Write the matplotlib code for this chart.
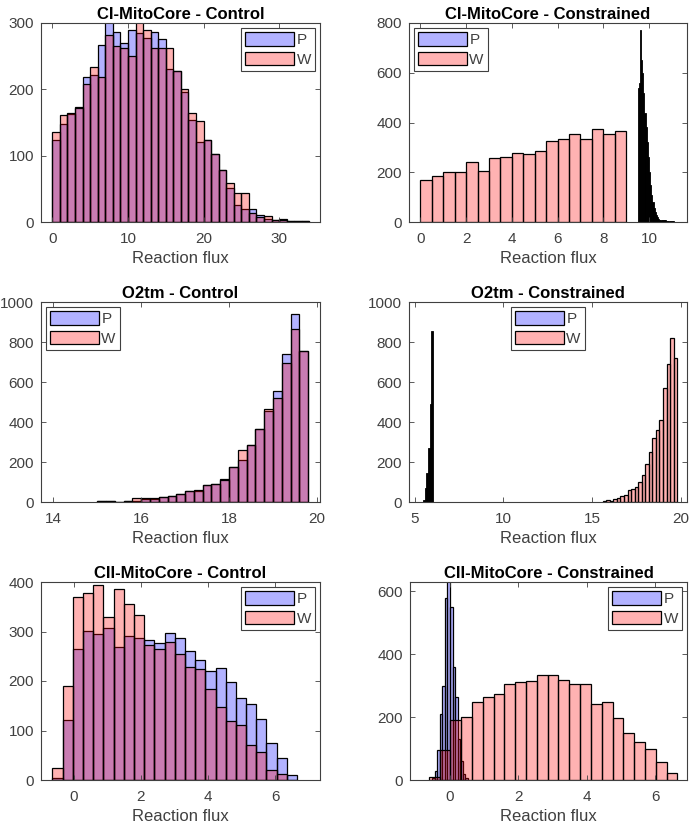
import numpy as np
import matplotlib
matplotlib.use("Agg")
import matplotlib.pyplot as plt
import matplotlib.patches as mpatches

plt.rcParams['font.family'] = ['Liberation Sans', 'DejaVu Sans']

# ---- data: histogram counts per bin (start, bin width, counts) ----
# CI-MitoCore - Control
ci_ctrl_start, ci_ctrl_bw = 0.0, 1.0
ci_ctrl_p = [124, 147, 163, 173, 218, 221, 267, 302, 287, 270, 290, 285, 277, 286, 276,
             231, 227, 196, 154, 120, 124, 102, 79, 51, 25, 19, 19, 10, 5, 3, 4, 2, 1, 1]
ci_ctrl_w = [136, 162, 165, 172, 208, 234, 219, 282, 265, 262, 251, 302, 289, 263, 263,
             263, 227, 201, 165, 152, 124, 102, 79, 59, 43, 43, 13, 7, 9, 3, 3, 2, 1, 1]

# CI-MitoCore - Constrained
ci_con_w_start, ci_con_w_bw = 0.0, 0.5
ci_con_w = [170, 185, 200, 200, 240, 205, 258, 262, 278, 273, 287, 325, 335, 355, 335, 373, 355, 365]
ci_con_p_start, ci_con_p_bw = 9.50, 0.05
ci_con_p = [540, 560, 770, 650, 600, 520, 440, 380, 320, 260, 200, 150, 110, 80, 55, 40, 28,
            20, 14, 10, 9, 8, 8, 7, 7, 6, 5, 5, 4, 4, 3, 3, 2]

# O2tm - Control
o2_ctrl_start, o2_ctrl_bw = 15.0, 0.2
o2_ctrl_p = [5, 5, 0, 3, 4, 13, 15, 25, 28, 42, 55, 53, 83, 88, 113, 175, 208, 283, 367, 453,
             555, 738, 942, 753]
o2_ctrl_w = [5, 5, 0, 3, 20, 20, 18, 25, 28, 42, 55, 62, 83, 88, 112, 175, 260, 283, 367, 463,
             520, 697, 867, 753]

# O2tm - Constrained
o2_con_p_start, o2_con_p_bw = 5.49, 0.09
o2_con_p = [12, 70, 146, 271, 489, 854]
o2_con_w_start, o2_con_w_bw = 15.6, 0.2
o2_con_w = [3, 8, 5, 15, 22, 30, 35, 60, 65, 75, 98, 135, 190, 248, 320, 360, 410, 572, 690, 820, 720]

# CII-MitoCore - Control
cii_ctrl_start, cii_ctrl_bw = -0.64, 0.304
cii_ctrl_p = [5, 121, 265, 302, 294, 308, 268, 291, 286, 283, 277, 296, 286, 260, 243, 221,
              226, 198, 165, 154, 123, 75, 45, 11]
cii_ctrl_w = [25, 189, 370, 378, 394, 330, 385, 355, 333, 272, 264, 279, 254, 229, 224, 184,
              147, 119, 111, 70, 57, 20, 12, 0]

# CII-MitoCore - Constrained
cii_con_p_start, cii_con_p_bw = -0.525, 0.075
cii_con_p = [5, 30, 95, 210, 300, 580, 640, 550, 360, 265, 130, 60, 20, 5]
cii_con_w_start, cii_con_w_bw = -0.62, 0.316
cii_con_w = [10, 95, 192, 200, 249, 265, 275, 305, 312, 315, 333, 333, 317, 307, 307, 241,
             249, 196, 148, 122, 98, 58, 21]

P_COLOR = (0, 0, 1, 0.3)
W_COLOR = (1, 0, 0, 0.3)
GREY = '#404040'


def hist_bars(ax, start, bw, counts, color, dense=False):
    left = start + bw * np.arange(len(counts))
    if dense:
        ax.bar(left, counts, width=bw, align='edge', facecolor='k', edgecolor='k', linewidth=0.6)
    else:
        ax.bar(left, counts, width=bw, align='edge', facecolor=color, edgecolor='k', linewidth=0.9)


def style(ax, title, xlim, ylim, xticks, yticks, legend_loc):
    ax.set_xlim(*xlim)
    ax.set_ylim(*ylim)
    ax.set_xticks(xticks)
    ax.set_yticks(yticks)
    ax.set_title(title, fontsize=12, fontweight='bold', color='k', pad=3)
    ax.set_xlabel('Reaction flux', fontsize=12, color=GREY, labelpad=4)
    ax.tick_params(direction='in', top=True, right=True, length=3.5, width=0.6,
                   labelsize=11, colors=GREY, pad=5)
    ax.tick_params(axis='x', pad=7)
    for s in ax.spines.values():
        s.set_color(GREY)
        s.set_linewidth(0.8)
    handles = [mpatches.Patch(facecolor=P_COLOR, edgecolor='k', linewidth=0.9, label='P'),
               mpatches.Patch(facecolor=W_COLOR, edgecolor='k', linewidth=0.9, label='W')]
    leg = ax.legend(handles=handles, loc=legend_loc, fontsize=11, handlelength=3.2,
                    handleheight=1.0, handletextpad=0.15, borderpad=0.3, labelspacing=0.3,
                    borderaxespad=0.3, fancybox=False, framealpha=1)
    leg.get_frame().set_edgecolor(GREY)
    leg.get_frame().set_linewidth(0.8)
    for t in leg.get_texts():
        t.set_color(GREY)


W, H = 689, 827
fig = plt.figure(figsize=(W / 100, H / 100), dpi=100)


def axes_px(x0, x1, y0, y1):
    return fig.add_axes([x0 / W, 1 - y1 / H, (x1 - x0) / W, (y1 - y0) / H])


ax1 = axes_px(41, 320, 23, 222)
hist_bars(ax1, ci_ctrl_start, ci_ctrl_bw, ci_ctrl_p, P_COLOR)
hist_bars(ax1, ci_ctrl_start, ci_ctrl_bw, ci_ctrl_w, W_COLOR)
style(ax1, 'CI-MitoCore - Control', (-1.5, 35.4), (0, 300), [0, 10, 20, 30],
      [0, 100, 200, 300], 'upper right')

ax2 = axes_px(409, 687, 23, 222)
hist_bars(ax2, ci_con_p_start, ci_con_p_bw, ci_con_p, P_COLOR, dense=True)
hist_bars(ax2, ci_con_w_start, ci_con_w_bw, ci_con_w, W_COLOR)
style(ax2, 'CI-MitoCore - Constrained', (-0.5, 11.66), (0, 800), [0, 2, 4, 6, 8, 10],
      [0, 200, 400, 600, 800], 'upper left')

ax3 = axes_px(41, 320, 302, 502)
hist_bars(ax3, o2_ctrl_start, o2_ctrl_bw, o2_ctrl_p, P_COLOR)
hist_bars(ax3, o2_ctrl_start, o2_ctrl_bw, o2_ctrl_w, W_COLOR)
style(ax3, 'O2tm - Control', (13.72, 20.07), (0, 1000), [14, 16, 18, 20],
      [0, 200, 400, 600, 800, 1000], 'upper left')

ax4 = axes_px(409, 687, 302, 502)
hist_bars(ax4, o2_con_p_start, o2_con_p_bw, o2_con_p, P_COLOR, dense=True)
hist_bars(ax4, o2_con_w_start, o2_con_w_bw, o2_con_w, W_COLOR)
style(ax4, 'O2tm - Constrained', (4.69, 20.35), (0, 1000), [5, 10, 15, 20],
      [0, 200, 400, 600, 800, 1000], 'upper center')

ax5 = axes_px(41, 320, 582, 780)
hist_bars(ax5, cii_ctrl_start, cii_ctrl_bw, cii_ctrl_p, P_COLOR)
hist_bars(ax5, cii_ctrl_start, cii_ctrl_bw, cii_ctrl_w, W_COLOR)
style(ax5, 'CII-MitoCore - Control', (-0.98, 7.34), (0, 400), [0, 2, 4, 6],
      [0, 100, 200, 300, 400], 'upper right')

ax6 = axes_px(410, 687, 582, 780)
hist_bars(ax6, cii_con_p_start, cii_con_p_bw, cii_con_p, P_COLOR)
hist_bars(ax6, cii_con_w_start, cii_con_w_bw, cii_con_w, W_COLOR)
style(ax6, 'CII-MitoCore - Constrained', (-1.17, 6.93), (0, 630), [0, 2, 4, 6],
      [0, 200, 400, 600], 'upper right')

fig.savefig('out.png', dpi=100)
